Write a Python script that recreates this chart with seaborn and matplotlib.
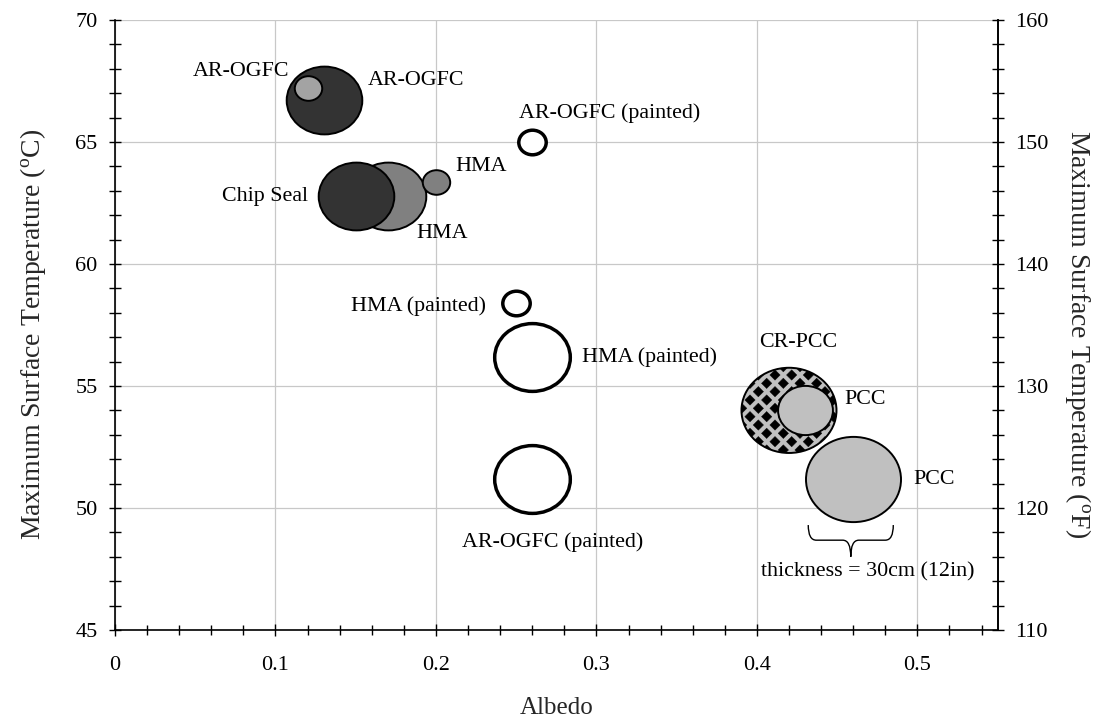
import warnings
warnings.filterwarnings("ignore")
import numpy as np
import pandas as pd
import matplotlib
matplotlib.use("Agg")
import matplotlib.pyplot as plt
import matplotlib.hatch as mhatch
from matplotlib.path import Path
from matplotlib.patches import PathPatch
from matplotlib.ticker import MultipleLocator, FuncFormatter
import seaborn as sns

# ---------------- data ----------------
point_id = ["AR-OGFC big", "AR-OGFC thin", "HMA big", "Chip Seal", "HMA thin",
            "AR-OGFC painted thin", "HMA painted thin", "HMA painted big",
            "AR-OGFC painted big", "CR-PCC", "PCC thin", "PCC big"]
albedo = [0.13, 0.12, 0.17, 0.15, 0.20, 0.26, 0.25, 0.26, 0.26, 0.42, 0.43, 0.46]
temp_c = [66.7, 67.2, 62.8, 62.8, 63.35, 65.0, 58.4, 56.2, 51.2, 54.0, 54.0, 51.2]
thickness_cm = [19, 2.5, 19, 19, 2.5, 2.5, 2.5, 19, 19, 30, 10, 30]

x_ticks = [0, 0.1, 0.2, 0.3, 0.4, 0.5]
yc_ticks = [45, 50, 55, 60, 65, 70]
yf_ticks = [110, 120, 130, 140, 150, 160]

labels = ["AR-OGFC", "AR-OGFC", "AR-OGFC (painted)", "HMA", "Chip Seal", "HMA",
          "HMA (painted)", "HMA (painted)", "AR-OGFC (painted)", "CR-PCC", "PCC", "PCC",
          "thickness = 30cm (12in)"]
label_x = [0.0784, 0.1873, 0.308, 0.2284, 0.0933, 0.2041, 0.1892, 0.333, 0.2726,
           0.4256, 0.4673, 0.5103, 0.4692]
label_y = [67.87, 67.50, 66.19, 63.98, 62.75, 61.23, 58.28, 56.19, 48.61,
           56.80, 54.43, 51.15, 47.38]

df = pd.DataFrame({"id": point_id, "albedo": albedo, "temp": temp_c, "thk": thickness_cm})

# ---------------- styles ----------------
FILL = {"AR-OGFC big": "#333333", "AR-OGFC thin": "#a3a3a3", "HMA big": "#808080",
        "Chip Seal": "#333333", "HMA thin": "#808080", "AR-OGFC painted thin": "white",
        "HMA painted thin": "white", "HMA painted big": "white",
        "AR-OGFC painted big": "white", "CR-PCC": "#c0c0c0", "PCC thin": "#c0c0c0",
        "PCC big": "#c0c0c0"}


# custom diamond hatch (checker of black diamonds)
class DiamondHatch(mhatch.HatchPatternBase):
    def __init__(self, hatch, density):
        n = hatch.count("d") * density
        self.ncols = n
        self.nrows = 2 * n
        self.num_vertices = 0 if n == 0 else (self.nrows + 1) * (self.ncols + 1) * 5

    def set_vertices_and_codes(self, vertices, codes):
        w = 1.0 / self.ncols
        h = 1.0 / self.nrows
        r = 0.31 * w
        cur = 0
        for j in range(self.nrows + 1):
            for i in range(self.ncols + 1):
                cx = i * w + (w / 2 if j % 2 else 0)
                cy = j * h
                vertices[cur:cur + 5] = [(cx, cy - r), (cx + r, cy), (cx, cy + r),
                                         (cx - r, cy), (cx, cy - r)]
                codes[cur:cur + 5] = [Path.MOVETO, Path.LINETO, Path.LINETO,
                                      Path.LINETO, Path.CLOSEPOLY]
                cur += 5


mhatch._hatch_types.append(DiamondHatch)

sns.set_theme(style="white")
plt.rcParams["font.family"] = ["Liberation Serif", "DejaVu Serif"]
plt.rcParams["mathtext.fontset"] = "custom"
plt.rcParams["mathtext.rm"] = "Liberation Serif"
plt.rcParams["mathtext.it"] = "Liberation Serif:italic"
plt.rcParams["hatch.linewidth"] = 0.3
plt.rcParams["hatch.color"] = "black"

circ = Path.unit_circle()
ELL = Path(circ.vertices * np.array([1.0, 1 / 1.115]), circ.codes)
SMAX = 4680  # marker area (pt^2) for 30 cm

fig = plt.figure(figsize=(10.97, 7.18), dpi=100)
ax = fig.add_axes([0.1048, 0.1226, 0.8046, 0.8496])
ax.set_axisbelow(True)

for _, row in df.iterrows():
    white = FILL[row["id"]] == "white"
    kw = {}
    if row["id"] == "CR-PCC":
        kw["hatch"] = "d"
    sns.scatterplot(x=[row["albedo"]], y=[row["temp"]], size=[row["thk"]],
                    sizes=(0, SMAX), size_norm=(0, 30), color=FILL[row["id"]],
                    marker=ELL, edgecolor="black", linewidth=2.5 if white else 1.4,
                    legend=False, ax=ax, **kw)

for t, x, y in zip(labels, label_x, label_y):
    ax.text(x, y, t, ha="center", va="center", fontsize=15.8, color="black")

# curly brace under the PCC bubble
bx0, bx1, by_top, by_mid, by_tip, bd = 0.432, 0.485, 49.3, 48.68, 48.0, 0.005
bxm = (bx0 + bx1) / 2
verts = [(bx0, by_top), (bx0, by_mid), (bx0 + bd, by_mid), (bxm - bd, by_mid),
         (bxm, by_mid), (bxm, by_tip),
         (bxm, by_mid), (bxm + bd, by_mid), (bx1 - bd, by_mid), (bx1, by_mid), (bx1, by_top)]
codes = [Path.MOVETO, Path.CURVE3, Path.CURVE3, Path.LINETO, Path.CURVE3, Path.CURVE3,
         Path.CURVE3, Path.CURVE3, Path.LINETO, Path.CURVE3, Path.CURVE3]
ax.add_patch(PathPatch(Path(verts, codes), fill=False, edgecolor="black", lw=1.0))

ax.set_xlim(0, 0.55)
ax.set_ylim(45, 70)
ax.xaxis.set_major_locator(matplotlib.ticker.FixedLocator(x_ticks))
ax.xaxis.set_minor_locator(MultipleLocator(0.02))
ax.yaxis.set_major_locator(matplotlib.ticker.FixedLocator(yc_ticks))
ax.yaxis.set_minor_locator(MultipleLocator(1))
ax.xaxis.set_major_formatter(FuncFormatter(lambda v, p: f"{v:g}"))
ax.grid(True, which="major", color="#c8c8c8", lw=0.9)
for s in ["left", "bottom", "right"]:
    ax.spines[s].set_color("black")
    ax.spines[s].set_linewidth(1.2)
ax.spines["top"].set_visible(False)
ax.tick_params(axis="both", which="both", direction="inout", color="black", width=1.0,
               labelsize=16, labelcolor="black")
ax.tick_params(axis="y", which="both", length=9, pad=8, left=True)
ax.tick_params(axis="x", which="major", length=9, pad=14, bottom=True)
ax.tick_params(axis="x", which="minor", length=7, bottom=True)
ax.set_xlabel("Albedo", fontsize=18, labelpad=16)
ax.set_ylabel(r"Maximum Surface Temperature ($^{\rm o}$C)", fontsize=20, labelpad=20)
ax.yaxis.label.set_y(0.485)

ax2 = ax.twinx()
ax2.set_ylim(110, 160)
ax2.yaxis.set_major_locator(matplotlib.ticker.FixedLocator(yf_ticks))
ax2.yaxis.set_minor_locator(MultipleLocator(2))
ax2.grid(False)
for s in ["left", "bottom", "top"]:
    ax2.spines[s].set_visible(False)
ax2.spines["right"].set_color("black")
ax2.spines["right"].set_linewidth(1.2)
ax2.tick_params(axis="y", which="both", direction="inout", length=9, width=1.0,
                color="black", labelsize=16, labelcolor="black", pad=8, right=True)
ax2.set_ylabel(r"Maximum Surface Temperature ($^{\rm o}$F)", fontsize=20,
               rotation=270, labelpad=32)
ax2.yaxis.label.set_y(0.485)

fig.savefig("out.png", dpi=100)
